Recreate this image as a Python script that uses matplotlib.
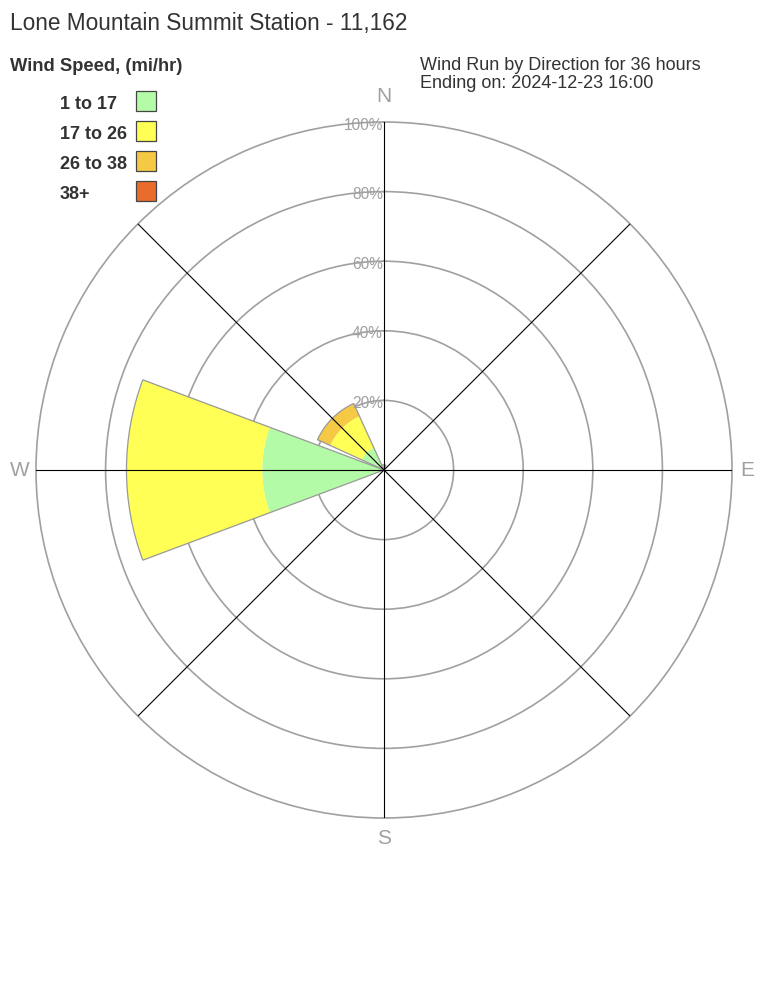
import numpy as np
import matplotlib
matplotlib.use("Agg")
import matplotlib.pyplot as plt
from matplotlib.transforms import offset_copy

plt.rcParams['font.family'] = ['Liberation Sans', 'DejaVu Sans']

# wind run share (%) by direction, stacked per speed class
directions = ['N', 'NE', 'E', 'SE', 'S', 'SW', 'W', 'NW']
dir_deg = [0, 45, 90, 135, 180, 225, 270, 315]
spd_1_17 = [1.5, 0, 0, 0, 0, 0, 35, 7]
spd_17_26 = [0, 0, 0, 0, 0, 0, 39, 10]
spd_26_38 = [0, 0, 0, 0, 0, 0, 0, 4]
spd_38_up = [0, 0, 0, 0, 0, 0, 0, 0]

speed_labels = ['1 to 17', '17 to 26', '26 to 38', '38+']
speed_colors = ['#b3fba6', '#ffff55', '#f6c945', '#ea6c2c']
ring_vals = [20, 40, 60, 80, 100]

W, H = 768, 1008
fig = plt.figure(figsize=(W / 100, H / 100), dpi=100)

def fx(x):
    return x / W

def fy(y):
    return 1 - y / H

# polar axes: centre (384, 470) px, radius 348 px
cx, cy, R = 384, 470, 348
ax = fig.add_axes([fx(cx - R), fy(cy + R), 2 * R / W, 2 * R / H], projection='polar')
ax.set_theta_zero_location('N')
ax.set_theta_direction(-1)
ax.set_ylim(0, 100)
ax.set_rgrids([20, 40, 60, 80], labels=[''] * 4)
ax.set_thetagrids(dir_deg, labels=[''] * 8)
ax.xaxis.grid(False)
ax.yaxis.grid(True, color='#a0a0a0', lw=1.2)
ax.spines['polar'].set_color('#a0a0a0')
ax.spines['polar'].set_linewidth(1.2)
ax.set_axisbelow(True)
ax.patch.set_alpha(0)

theta = np.deg2rad(dir_deg)
width = np.deg2rad(41)
series = [spd_1_17, spd_17_26, spd_26_38, spd_38_up]
bottom = np.zeros(len(dir_deg))
for vals, col in zip(series, speed_colors):
    vals = np.array(vals, dtype=float)
    ax.bar(theta, vals, width=width, bottom=bottom, color=col, edgecolor='none',
           linewidth=0, zorder=2)
    bottom += vals
# outline of each full wedge
ax.bar(theta, bottom, width=width, fill=False, edgecolor='#999999', linewidth=0.9, zorder=3)

# spokes on top of wedges
for t in theta:
    ax.plot([t, t], [0, 100], color='black', lw=0.8, zorder=4)

# ring labels
lab_tr = offset_copy(ax.transData, fig=fig, x=-1, y=-3, units='dots')
for r in ring_vals:
    ax.text(0, r, f'{r}%', transform=lab_tr, ha='right', va='center',
            fontsize=11.2, color='#a0a0a0', zorder=6)

# compass letters
for lab, x, y in [('N', 384, 97), ('S', 384, 838), ('E', 747, 470), ('W', 20, 470)]:
    fig.text(fx(x), fy(y), lab, ha='center', va='center', fontsize=15, color='#a0a0a0')

txt = '#333333'
fig.text(fx(10), fy(30), 'Lone Mountain Summit Station - 11,162', ha='left', va='baseline',
         fontsize=16.3, color=txt)
fig.text(fx(10), fy(71), 'Wind Speed, (mi/hr)', ha='left', va='baseline',
         fontsize=13.2, fontweight='bold', color=txt)
fig.text(fx(420), fy(70), 'Wind Run by Direction for 36 hours', ha='left', va='baseline',
         fontsize=13, color=txt)
fig.text(fx(420), fy(88), 'Ending on: 2024-12-23 16:00', ha='left', va='baseline',
         fontsize=13, color=txt)

# legend
for i, (lab, col) in enumerate(zip(speed_labels, speed_colors)):
    ytop = 91 + 30 * i
    fig.text(fx(60), fy(ytop + 18), lab, ha='left', va='baseline', fontsize=13,
             fontweight='bold', color=txt)
    fig.patches.append(plt.Rectangle((fx(136), fy(ytop + 20)), 20 / W, 20 / H,
                                     transform=fig.transFigure, facecolor=col,
                                     edgecolor='#444444', linewidth=0.9))

fig.savefig('out.png', dpi=100)
